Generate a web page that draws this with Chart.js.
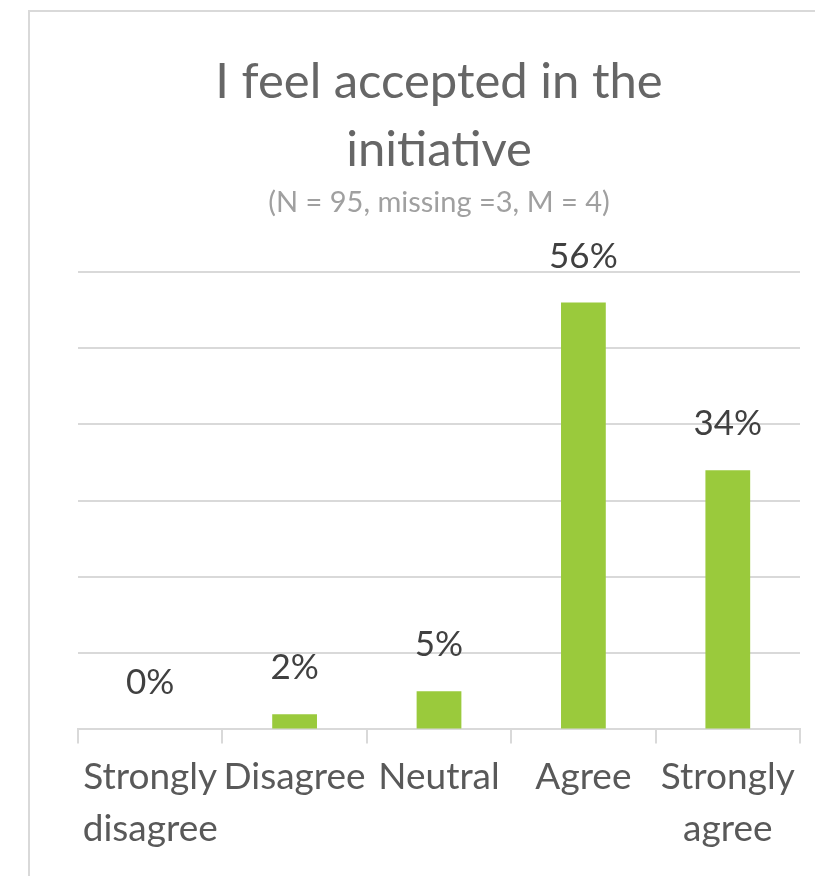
<!DOCTYPE html>
<html>
<head>
<meta charset="utf-8">
<script src="https://cdn.jsdelivr.net/npm/chart.js@4"></script>
<style>
  body { margin: 0; background: #ffffff; overflow: hidden; }
  #frame { position: absolute; left: 28px; top: 10px; width: 900px; height: 900px; border: 2px solid #d9d9d9; }
  #chart { position: absolute; left: 0; top: 0; }
</style>
</head>
<body>
<div id="frame"></div>
<canvas id="chart" width="815" height="876"></canvas>
<script>
// Données du graphique
const categories = [['Strongly', 'disagree'], 'Disagree', 'Neutral', 'Agree', ['Strongly', 'agree']];
const percentages = [0, 2, 5, 56, 34];
const titleLines = ['I feel accepted in the', 'initiative'];
const subtitleText = '(N = 95, missing =3, M = 4)';

const FONT = 'Lato, "Open Sans", sans-serif';
const GRID = '#d9d9d9';

// Étiquettes au-dessus des barres
const barLabels = {
    id: 'barLabels',
    afterDatasetsDraw(chart) {
        const ctx = chart.ctx;
        const meta = chart.getDatasetMeta(0);
        ctx.save();
        ctx.font = '35px ' + FONT;
        ctx.fillStyle = '#404040';
        ctx.textAlign = 'center';
        ctx.textBaseline = 'alphabetic';
        meta.data.forEach((bar, i) => {
            ctx.fillText(percentages[i] + '%', bar.x, bar.y - 35);
        });
        ctx.restore();
    }
};

new Chart(document.getElementById('chart').getContext('2d'), {
    type: 'bar',
    data: {
        labels: categories,
        datasets: [{
            data: percentages,
            backgroundColor: '#9aca3c',
            categoryPercentage: 1,
            barPercentage: 0.31
        }]
    },
    options: {
        responsive: false,
        animation: false,
        layout: { padding: { left: 78, right: 15, top: 0, bottom: 13 } },
        plugins: {
            legend: { display: false },
            tooltip: { enabled: false },
            title: {
                display: true,
                text: titleLines,
                color: '#666666',
                font: { family: FONT, size: 49, weight: 'normal', lineHeight: 1.39 },
                padding: { top: 48, bottom: 0 }
            },
            subtitle: {
                display: true,
                text: subtitleText,
                color: '#a0a0a0',
                font: { family: FONT, size: 29, lineHeight: 1.2 },
                padding: { top: 1, bottom: 52 }
            }
        },
        scales: {
            x: {
                grid: { offset: true, drawOnChartArea: false, tickLength: 14, color: GRID, lineWidth: 2 },
                border: { color: GRID, width: 2 },
                ticks: {
                    color: '#595959',
                    font: { family: FONT, size: 37, lineHeight: 1.4 },
                    padding: 8,
                    maxRotation: 0,
                    autoSkip: false
                }
            },
            y: {
                min: 0,
                max: 60,
                ticks: { display: false, stepSize: 10 },
                grid: { color: GRID, lineWidth: 2, drawTicks: false },
                border: { display: false }
            }
        }
    },
    plugins: [barLabels]
});
</script>
</body>
</html>
